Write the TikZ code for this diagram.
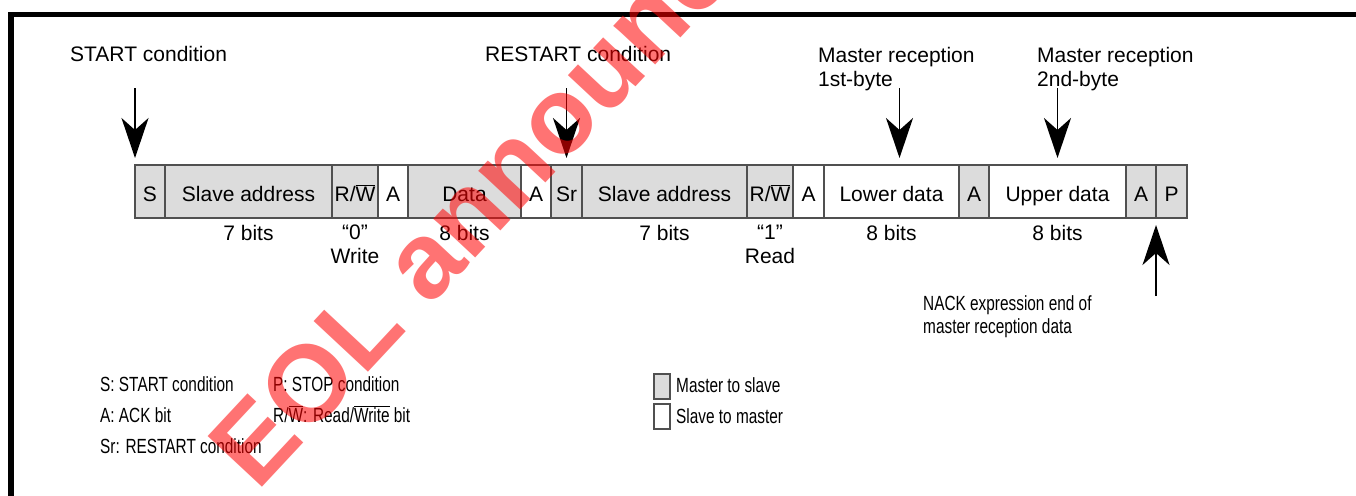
\documentclass[tikz,border=0pt]{standalone}
\usepackage{fontspec}
\setmainfont{Liberation Sans}
\newfontfamily\estrecha[FakeStretch=0.75]{Liberation Sans}
\usetikzlibrary{positioning,arrows.meta}
\definecolor{relleno}{HTML}{DCDCDC}
\definecolor{borde}{HTML}{505050}
\newcommand{\negado}[1]{$\overline{\mbox{#1}}$}

\begin{document}
\begin{tikzpicture}[
        x=1pt, y=-1pt,
        campo/.style={draw=borde, line width=1.3pt, fill=relleno, minimum height=53pt, inner sep=0pt, outer sep=0pt, text height=22pt, text depth=3pt, font=\fontsize{21}{24}\selectfont},
        libre/.style={campo, fill=white},
        texto/.style={inner sep=0pt, align=center, font=\fontsize{21}{24}\selectfont},
        nota/.style={inner sep=0pt, align=left, font=\estrecha\fontsize{20.5}{23}\selectfont},
        flecha/.style={line width=1.9pt, -{Stealth[length=40pt, width=27pt, inset=12pt]}, shorten >=7pt}
    ]
        \useasboundingbox (0,0) rectangle (1356,495);
        % Marco
        \draw[line width=5.5pt] (11,500) -- (11,14.5) -- (1360,14.5);

        % Campos de la trama
        \node[campo, minimum width=30pt, anchor=north west] (s) at (135,165) {S};
        \node[campo, minimum width=167pt] (adr1) [right=0pt of s] {Slave address};
        \node[campo, minimum width=46pt] (rw1) [right=0pt of adr1] {R/\negado{W}};
        \node[libre, minimum width=30pt] (ack1) [right=0pt of rw1] {A};
        \node[campo, minimum width=113pt] (dat) [right=0pt of ack1] {Data};
        \node[libre, minimum width=30pt] (ack2) [right=0pt of dat] {A};
        \node[campo, minimum width=31pt] (sr) [right=0pt of ack2] {Sr};
        \node[campo, minimum width=165pt] (adr2) [right=0pt of sr] {Slave address};
        \node[campo, minimum width=46pt] (rw2) [right=0pt of adr2] {R/\negado{W}};
        \node[libre, minimum width=31pt] (ack3) [right=0pt of rw2] {A};
        \node[libre, minimum width=135pt] (lo) [right=0pt of ack3] {Lower data};
        \node[campo, minimum width=30pt] (ack4) [right=0pt of lo] {A};
        \node[libre, minimum width=137pt] (hi) [right=0pt of ack4] {Upper data};
        \node[campo, minimum width=30pt] (nack) [right=0pt of hi] {A};
        \node[campo, minimum width=31pt] (p) [right=0pt of nack] {P};

        % Textos bajo los campos
        \node[texto] (b1) [below=7pt of adr1] {7 bits};
        \node[texto] (b2) [below=7pt of rw1] {``0''\\Write};
        \node[texto] (b3) [below=7pt of dat] {8 bits};
        \node[texto] (b4) [below=7pt of adr2] {7 bits};
        \node[texto] (b5) [below=7pt of rw2] {``1''\\Read};
        \node[texto] (b6) [below=7pt of lo] {8 bits};
        \node[texto] (b7) [below=7pt of hi] {8 bits};

        % Textos de arriba
        \node[texto, anchor=base west] (tini) at (70,62) {START condition};
        \node[texto, anchor=base west] (trei) at (485,62) {RESTART condition};
        \node[texto, align=left, anchor=base west] (tm1) at (818,86) {Master reception\\1st-byte};
        \node[texto, align=left, anchor=base west] (tm2) at (1037,86) {Master reception\\2nd-byte};
        \node[nota, anchor=base west] (tnack) at (923,333) {NACK expression end of\\master reception data};

        % Flechas
        \coordinate[above=77pt of s.north west] (pini);
        \coordinate[above=77pt of sr.north] (prei);
        \coordinate[above=77pt of lo.north, xshift=8pt] (plo);
        \coordinate[above=77pt of hi.north] (phi);
        \coordinate[below=78pt of p.south west] (pnack);
        \draw[flecha] (pini) -- (s.north west);
        \draw[flecha] (prei) -- (sr.north);
        \draw[flecha] (plo) -- (plo |- lo.north);
        \draw[flecha] (phi) -- (hi.north);
        \draw[flecha] (pnack) -- (p.south west);

        % Leyenda
        \node[nota, anchor=base west] (lS) at (100,391) {S: START condition};
        \node[nota, anchor=base west] (lA) at (100,422) {A: ACK bit};
        \node[nota, anchor=base west] (lSr) at (100,453) {Sr: RESTART condition};
        \node[nota, anchor=base west] (lP) at (273,391) {P: STOP condition};
        \node[nota, anchor=base west] (lRW) at (273,422) {R/\negado{W}: Read/\negado{Write} bit};
        \node[campo, minimum width=16pt, minimum height=23pt, anchor=north west] (cm) at (654,374) {};
        \node[libre, minimum width=16pt, minimum height=24pt, anchor=north west] (cs) at (654,404) {};
        \node[nota, anchor=base west] (tcm) at (676,392) {Master to slave};
        \node[nota, anchor=base west] (tcs) at (676,423) {Slave to master};

        % Marca de agua
        \node[rotate=47, text=red, opacity=.55, inner sep=0pt, font=\bfseries\fontsize{108}{108}\selectfont] (marca) at (490,188) {EOL announce};
    \end{tikzpicture}
\end{document}
